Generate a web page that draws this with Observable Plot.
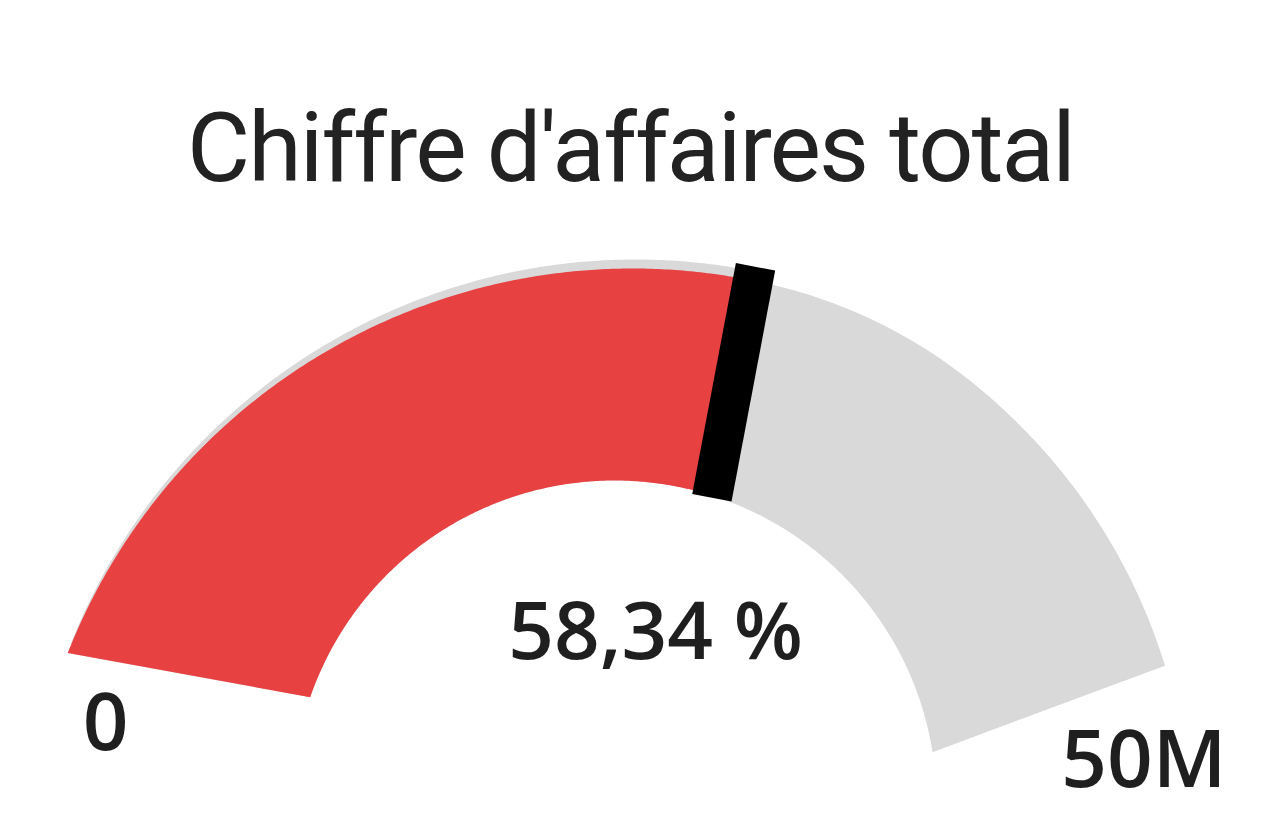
<!DOCTYPE html>
<html>
<head>
<meta charset="utf-8">
<script src="https://cdn.jsdelivr.net/npm/d3@7"></script>
<script src="https://cdn.jsdelivr.net/npm/@observablehq/plot@0.6"></script>
<style>
  html, body { margin: 0; padding: 0; background: #ffffff; }
  #title {
    box-sizing: border-box;
    width: 1277px;
    height: 230px;
    padding-top: 100px;
    padding-right: 16px;
    font-family: Roboto, "Noto Sans", sans-serif;
    font-size: 97px;
    line-height: 97px;
    font-weight: 400;
    letter-spacing: -1.9px;
    color: #222222;
    text-align: center;
    white-space: nowrap;
  }
  #chart svg { display: block; }
</style>
</head>
<body>
<div id="title">Chiffre d'affaires total</div>
<div id="chart"></div>
<script>
// ---- data ----
const gaugeMin = [0];
const gaugeMax = [50000000];
const gaugeValue = [29170000];
const valuePercent = [58.34];
const tickLabels = ["0", "50M"];
const valueLabels = ["58,34 %"];

// ---- geometry (styling only) ----
const W = 1277, H = 602;
const ox = 632, oy = 645;            // outer-edge centre, svg pixels
const innerC = {x: -18, y: 73};      // inner-edge centre, relative to outer centre (y up)
const rIn = 322;
const outerAngle = d3.scaleLinear().domain([gaugeMin[0], gaugeMax[0]]).range([-68.5, 68.5]);
const innerAngle = d3.scaleLinear().domain([gaugeMin[0], gaugeMax[0]]).range([-70.9, 81]);
function rOut(deg) {
  // outer edge pulls in gently on the right-hand side (smooth blend)
  let k;
  if (deg <= 14) k = 0;
  else if (deg <= 34) k = (deg - 14) * (deg - 14) / 40;
  else k = deg - 24;
  return 607 - 0.78 * k;
}
const rad = d => d * Math.PI / 180;
function outerPt(v, extra = 0) {
  const a = outerAngle(v), r = rOut(a) + extra;
  return {x: r * Math.sin(rad(a)), y: r * Math.cos(rad(a))};
}
function innerPt(v, extra = 0) {
  const a = innerAngle(v), r = rIn + extra;
  return {x: innerC.x + r * Math.sin(rad(a)), y: innerC.y + r * Math.cos(rad(a))};
}
function arcPolygon(v0, v1, n = 240) {
  const pts = [];
  for (let i = 0; i <= n; i++) pts.push(outerPt(v0 + (v1 - v0) * i / n));
  for (let i = n; i >= 0; i--) pts.push(innerPt(v0 + (v1 - v0) * i / n));
  return pts;
}

const bg = arcPolygon(gaugeMin[0], gaugeMax[0]);
const fg = arcPolygon(gaugeMin[0], gaugeValue[0]);
const needle = [{a: innerPt(gaugeValue[0], -2), b: outerPt(gaugeValue[0], 14)}];
const startPt = outerPt(gaugeMin[0]);
const endPt = outerPt(gaugeMax[0]);

const labelFont = "'Open Sans', Lato, sans-serif";
const labelStyle = {lineAnchor: "bottom", textAnchor: "middle", fontSize: 80, fontWeight: 600,
  fontFamily: labelFont, fill: "#1f1f1f"};

const chart = Plot.plot({
  width: W,
  height: H,
  margin: 0,
  x: {domain: [-ox, W - ox], axis: null},
  y: {domain: [oy - H, oy], axis: null},
  marks: [
    // soft shadow behind the filled part
    Plot.line(fg, {x: "x", y: "y", fill: "#d9d9d9", stroke: "none", curve: "linear", dx: 3, dy: -9}),
    Plot.line(bg, {x: "x", y: "y", fill: "#d9d9d9", stroke: "none", curve: "linear"}),
    Plot.line(fg, {x: "x", y: "y", fill: "#e84142", stroke: "none", curve: "linear"}),
    Plot.link(needle, {x1: d => d.a.x, y1: d => d.a.y, x2: d => d.b.x, y2: d => d.b.y,
      stroke: "#000000", strokeWidth: 40, strokeLinecap: "butt"}),
    Plot.text([valueLabels[0]], {x: () => 0, y: () => 0, text: d => d, dx: 23, dy: -217, ...labelStyle}),
    Plot.text([tickLabels[0]], {x: () => startPt.x, y: () => startPt.y, text: d => d, dx: 38, dy: 97, ...labelStyle}),
    Plot.text([tickLabels[1]], {x: () => endPt.x, y: () => endPt.y, text: d => d, dx: -21, dy: 121, ...labelStyle})
  ]
});
document.getElementById("chart").appendChild(chart);
</script>
</body>
</html>
